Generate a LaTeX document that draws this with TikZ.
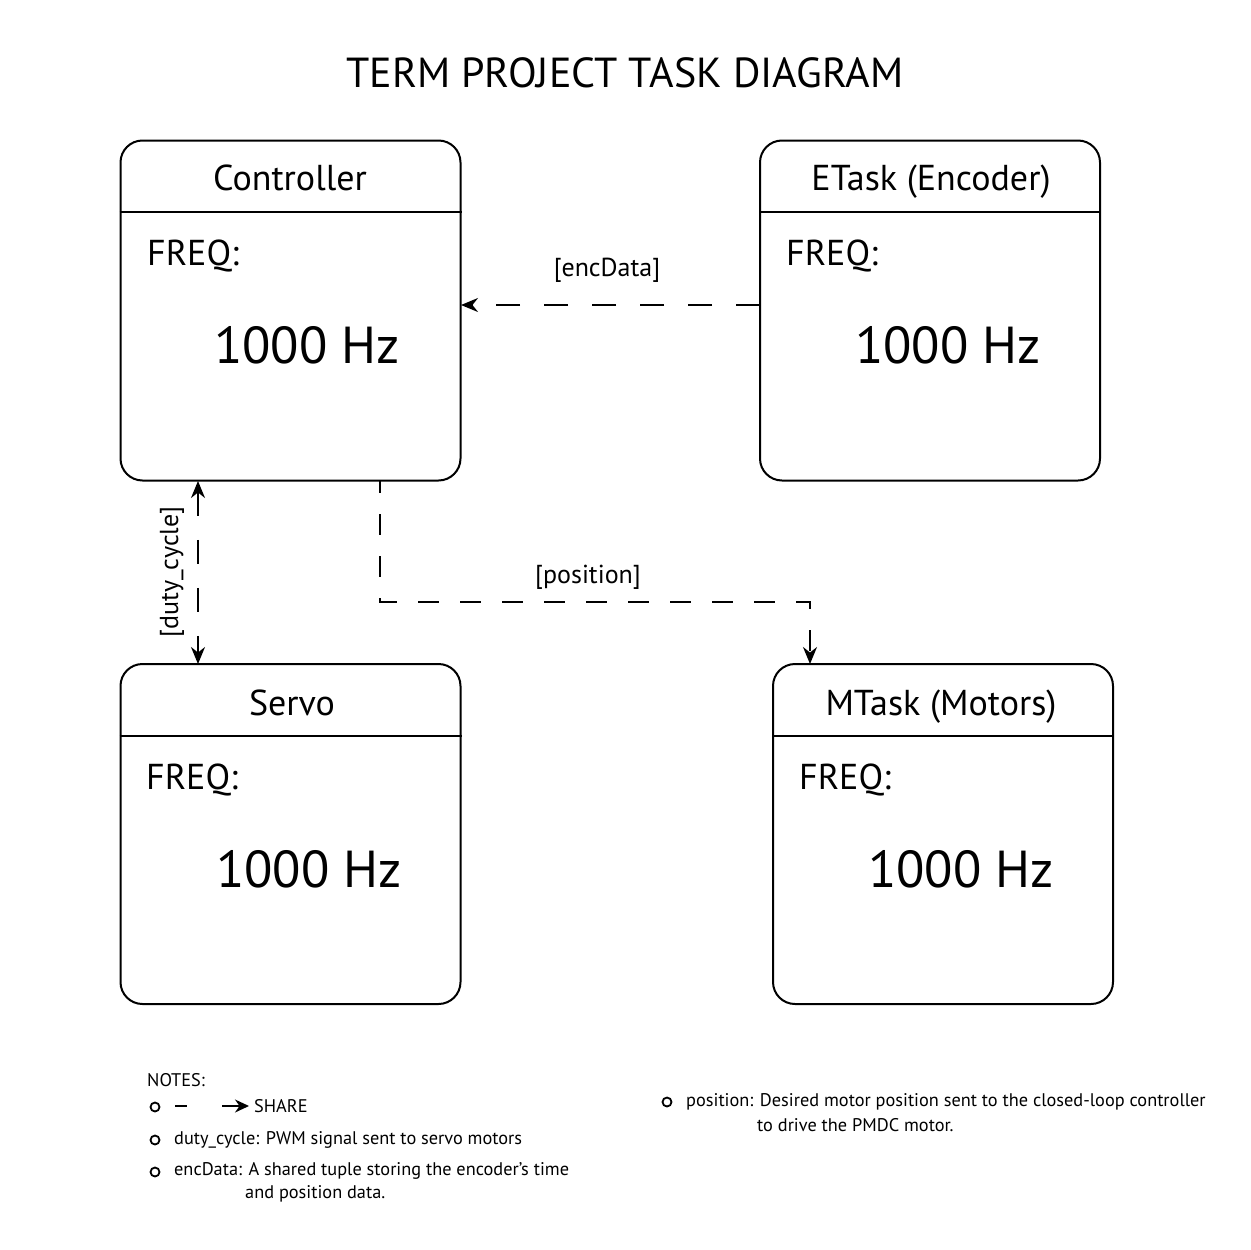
\documentclass[tikz,border=0pt]{standalone}
\usepackage{fontspec}
\setmainfont{PT Sans}
\usetikzlibrary{arrows.meta}
\begin{document}
\begin{tikzpicture}[x=1pt,y=-1pt,
  task/.style={draw,line width=2pt,rounded corners=22pt,minimum width=340pt,minimum height=340pt,inner sep=0pt},
  ttl/.style={font=\fontsize{36}{40}\selectfont,inner sep=0pt,anchor=base},
  freq/.style={font=\fontsize{36}{40}\selectfont,inner sep=0pt,anchor=base west},
  hz/.style={font=\fontsize{52}{60}\selectfont,inner sep=0pt,anchor=west},
  lbl/.style={font=\fontsize{26}{30}\selectfont,inner sep=0pt},
  note/.style={font=\fontsize{18.3}{22}\selectfont,inner sep=0pt,anchor=west},
  bul/.style={draw,circle,line width=1.8pt,minimum size=9pt,inner sep=0pt},
  flow/.style={line width=1.8pt,dash pattern=on 24pt off 24pt},
  tip/.style={-{Stealth[length=17pt,width=14pt]}},
  tips/.style={{Stealth[length=17pt,width=14pt]}-{Stealth[length=17pt,width=14pt]}}
]
\useasboundingbox[fill=white] (0,0) rectangle (1250,1250);
\node[font=\fontsize{42}{48}\selectfont,inner sep=0pt] (title) at (625,73) {TERM PROJECT TASK DIAGRAM};

% boxes
\node[task] (ctrl) at (290.5,310.5) {};
\node[task] (enc) at (930,310.5) {};
\node[task] (servo) at (290.5,834) {};
\node[task] (mot) at (943,834) {};

\draw[line width=2pt] ([yshift=-72pt]ctrl.north west) -- ([yshift=-72pt]ctrl.north east);
\draw[line width=2pt] ([yshift=-72pt]enc.north west) -- ([yshift=-72pt]enc.north east);
\draw[line width=2pt] ([yshift=-73pt]servo.north west) -- ([yshift=-73pt]servo.north east);
\draw[line width=2pt] ([yshift=-73pt]mot.north west) -- ([yshift=-73pt]mot.north east);

\node[ttl] (ctrlT) at (290,190) {Controller};
\node[ttl] (encT) at (931,190) {ETask (Encoder)};
\node[ttl] (servoT) at (292,715) {Servo};
\node[ttl] (motT) at (941,715) {MTask (Motors)};

\node[freq] (ctrlF) at (147,265) {FREQ:};
\node[freq] (encF) at (786,265) {FREQ:};
\node[freq] (servoF) at (146,789) {FREQ:};
\node[freq] (motF) at (799,789) {FREQ:};

\node[hz] (ctrlH) at (214,345) {1000 Hz};
\node[hz] (encH) at (855,345) {1000 Hz};
\node[hz] (servoH) at (216,869) {1000 Hz};
\node[hz] (motH) at (868,869) {1000 Hz};

% connectors
\coordinate (encS) at (760,305);
\coordinate (encE) at (461,305);
\draw[flow,tip] (encS) -- (encE);
\node[lbl] (encL) at (607,270) {[encData]};

\coordinate (dcA) at (198,481);
\coordinate (dcB) at (198,664);
\draw[flow,tips] (dcA) -- (dcB);
\node[lbl,rotate=90] (dcL) at (172,572) {[duty\_cycle]};

\coordinate (posA) at (380,481);
\coordinate (posB) at (810,664);
\draw[flow,tip,dash pattern=on 21pt off 21pt,dash phase=9pt] (posA) |- (810,602) -- (posB);
\node[lbl] (posL) at (588,577) {[position]};

% notes
\node[note] (notes) at (147,1080) {NOTES:};
\node[bul] (b1) at (155,1107) {};
\node[bul] (b2) at (155,1140) {};
\node[bul] (b3) at (155,1172) {};
\node[bul] (b4) at (667,1102) {};
\draw[line width=1.6pt] (175,1106) -- (187,1106);
\coordinate (shA) at (222,1106);
\coordinate (shB) at (249,1106);
\draw[line width=1.6pt,-{Stealth[length=14pt,width=13pt]}] (shA) -- (shB);
\node[note] (share) at (254,1106) {SHARE};
\node[note] (n2) at (174,1140) {duty\_cycle: PWM signal sent to servo motors};
\node[note] (n3) at (174,1171) {encData: A shared tuple storing the encoder’s time};
\node[note] (n3b) at (245,1194) {and position data.};
\node[note] (n4) at (686,1102) {position: Desired motor position sent to the closed-loop controller};
\node[note] (n4b) at (757,1125) {to drive the PMDC motor.};
\end{tikzpicture}
\end{document}
